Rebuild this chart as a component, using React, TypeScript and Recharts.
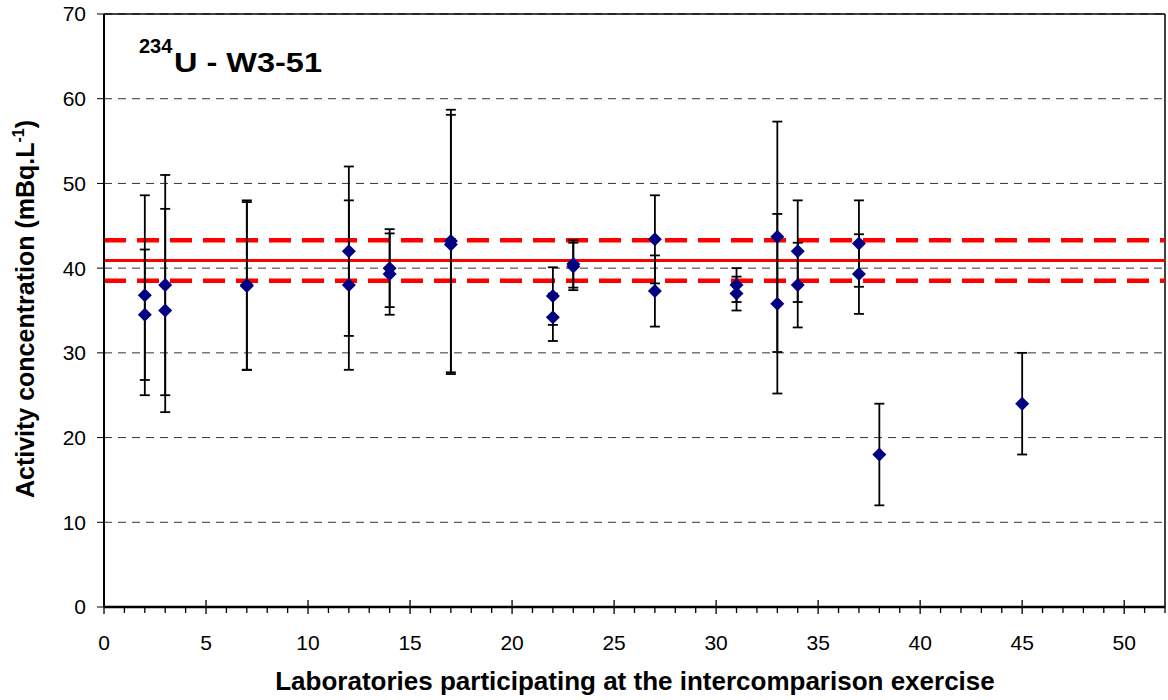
import React from 'react';
import {
  ScatterChart,
  Scatter,
  XAxis,
  YAxis,
  CartesianGrid,
  ErrorBar,
  ReferenceLine,
} from 'recharts';

// Laboratory codes (x) with reported activity concentrations and uncertainties
const labs = [2, 2, 3, 3, 7, 7, 12, 12, 14, 14, 17, 17, 22, 22, 23, 23, 27, 27, 31, 31, 33, 33, 34, 34, 37, 37, 38, 45];
const activity = [36.8, 34.5, 38, 35, 38, 37.9, 42, 38, 40, 39.3, 43.2, 42.8, 36.7, 34.2, 40.5, 40.2, 43.4, 37.3, 38, 37, 43.7, 35.8, 42, 38, 42.9, 39.3, 18, 24];
const uncertainty = [11.8, 7.7, 13, 12, 10, 9.9, 10, 10, 4.6, 4.8, 15.5, 15.3, 3.4, 2.8, 2.8, 2.8, 5.2, 4.2, 2, 2, 13.6, 10.6, 6, 5, 5.1, 4.7, 6, 6];

const xTicks = [0, 1, 2, 3, 4, 5, 6, 7, 8, 9, 10, 11, 12, 13, 14, 15, 16, 17, 18, 19, 20, 21, 22, 23, 24, 25, 26, 27, 28, 29, 30, 31, 32, 33, 34, 35, 36, 37, 38, 39, 40, 41, 42, 43, 44, 45, 46, 47, 48, 49, 50, 51, 52];
const yTicks = [0, 10, 20, 30, 40, 50, 60, 70];

const refValue = 40.9;
const refLow = 38.5;
const refHigh = 43.3;

const data = labs.map((x, i) => ({ x, y: activity[i], err: uncertainty[i] }));

const FONT = "'Liberation Sans', Arial, sans-serif";

const Diamond = (props: any) => {
  const { cx, cy } = props;
  if (cx == null || cy == null) return null;
  const r = 7;
  return (
    <polygon
      points={`${cx},${cy - r} ${cx + r},${cy} ${cx},${cy + r} ${cx - r},${cy}`}
      fill="#000080"
    />
  );
};

const XTick = (props: any) => {
  const { x, y, payload } = props;
  const v = payload.value;
  const major = v % 5 === 0;
  return (
    <g>
      <line x1={x} x2={x} y1={major ? y - 7 : y} y2={major ? y + 7 : y + 6} stroke="#000" strokeWidth={1.3} />
      {major && (
        <text
          x={x}
          y={y + 43}
          textAnchor="middle"
          fontSize={21}
          fontFamily={FONT}
          fill="#000"
        >
          {v}
        </text>
      )}
    </g>
  );
};

export default function App() {
  return (
    <div style={{ position: 'absolute', left: 0, top: 0, width: 1168, height: 700, background: '#fff' }}>
      <ScatterChart
        width={1168}
        height={700}
        margin={{ top: 14, right: 3, left: 0, bottom: 0 }}
      >
        <CartesianGrid
          horizontal={true}
          vertical={false}
          stroke="#333"
          strokeDasharray="8 6"
          strokeWidth={1}
        />
        <XAxis
          type="number"
          dataKey="x"
          domain={[0, 52]}
          ticks={xTicks}
          interval={0}
          height={93}
          axisLine={{ stroke: '#000', strokeWidth: 2.5 }}
          tickLine={false}
          tickSize={0}
          tickMargin={0}
          tick={<XTick />}
          allowDataOverflow
        />
        <YAxis
          type="number"
          dataKey="y"
          domain={[0, 70]}
          ticks={yTicks}
          interval={0}
          width={104}
          axisLine={{ stroke: '#000', strokeWidth: 2 }}
          tickLine={{ stroke: '#000', strokeWidth: 1 }}
          tickSize={7}
          tickMargin={11}
          tick={{ fontSize: 21, fill: '#000', fontFamily: FONT }}
          allowDataOverflow
        />
        <ReferenceLine y={70} stroke="#000" strokeWidth={1.5} />
        <ReferenceLine x={52} stroke="#000" strokeWidth={1.5} />
        <ReferenceLine y={refHigh} stroke="#ff0000" strokeWidth={4.5} strokeDasharray="22 11" />
        <ReferenceLine y={refLow} stroke="#ff0000" strokeWidth={4.5} strokeDasharray="22 11" />
        <ReferenceLine y={refValue} stroke="#ff0000" strokeWidth={3} />
        <Scatter data={data} shape={<Diamond />} isAnimationActive={false}>
          <ErrorBar dataKey="err" direction="y" width={5} stroke="#000" strokeWidth={1.8} isAnimationActive={false} />
        </Scatter>
      </ScatterChart>
      <svg
        width={1168}
        height={700}
        style={{ position: 'absolute', left: 0, top: 0, pointerEvents: 'none' }}
      >
        <text x={139} y={53} fontSize={20} fontWeight="bold" fontFamily={FONT} fill="#000">
          234
        </text>
        <text
          x={174}
          y={72}
          fontSize={27}
          fontWeight="bold"
          fontFamily={FONT}
          fill="#000"
          textLength={148}
          lengthAdjust="spacingAndGlyphs"
        >
          U - W3-51
        </text>
        <text
          transform="translate(34,309) rotate(-90)"
          textAnchor="middle"
          fontSize={25}
          fontWeight="bold"
          fontFamily={FONT}
          fill="#000"
        >
          Activity concentration (mBq.L
          <tspan dy={-10} fontSize={16}>-1</tspan>
          <tspan dy={10}>)</tspan>
        </text>
        <text x={635} y={690} textAnchor="middle" fontSize={26} fontWeight="bold" fontFamily={FONT} fill="#000">
          Laboratories participating at the intercomparison exercise
        </text>
      </svg>
    </div>
  );
}
